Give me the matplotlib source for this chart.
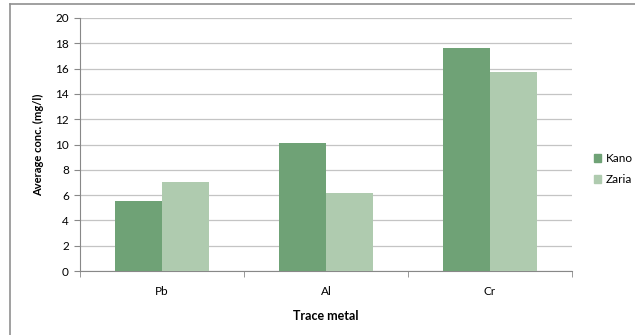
import matplotlib
matplotlib.use("Agg")
import matplotlib.pyplot as plt
from matplotlib.lines import Line2D
from matplotlib.patches import Patch
import numpy as np

metals = ["Pb", "Al", "Cr"]
kano = [5.5, 10.1, 17.6]
zaria = [7.05, 6.2, 15.7]

kano_color = "#6fa276"
zaria_color = "#afcbaf"
grid_color = "#c4c4c4"

plt.rcParams["font.family"] = ["Lato", "DejaVu Sans"]

fig = plt.figure(figsize=(6.35, 3.35), dpi=100)
ax = fig.add_axes([80 / 635, 1 - 271 / 335, 492 / 635, 253 / 335])

x = np.arange(len(metals))
w = 0.286
ax.bar(x - w / 2, kano, w, color=kano_color, label="Kano", zorder=3)
ax.bar(x + w / 2, zaria, w, color=zaria_color, label="Zaria", zorder=3)

ax.set_xlim(-0.5, len(metals) - 0.5)
ax.set_ylim(0, 20)
ax.set_yticks(range(0, 21, 2))
ax.yaxis.grid(True, color=grid_color, linewidth=0.9, zorder=0)

# category labels without ticks, ticks at category boundaries
ax.set_xticks(x)
ax.set_xticklabels(metals, fontsize=8.5)
ax.tick_params(axis="x", length=0, pad=11)
ax.set_xticks(np.arange(-0.5, len(metals)), minor=True)
ax.tick_params(axis="x", which="minor", length=4, color="#888888", direction="out")
ax.tick_params(axis="y", length=4, color="#888888", labelsize=8.5, pad=4)

for side in ["top", "right"]:
    ax.spines[side].set_visible(False)
ax.spines["left"].set_color("#888888")
ax.spines["bottom"].set_color("#888888")

ax.set_ylabel("Average conc. (mg/l)", fontsize=8, fontweight="bold", labelpad=8)
ax.set_xlabel("Trace metal", fontsize=9, fontweight="bold", labelpad=9)

handles = [Patch(color=kano_color), Patch(color=zaria_color)]
fig.legend(handles, ["Kano", "Zaria"], loc="center left",
           bbox_to_anchor=(589 / 635, 1 - 169 / 335), frameon=False,
           fontsize=8.5, handlelength=0.65, handleheight=0.65,
           handletextpad=0.4, labelspacing=0.8, borderaxespad=0)

# outer frame (left and top edges)
fig.add_artist(Line2D([10 / 635, 10 / 635], [0, 1 - 4 / 335],
                      transform=fig.transFigure, color="#909090", linewidth=1.2))
fig.add_artist(Line2D([10 / 635, 1], [1 - 4 / 335, 1 - 4 / 335],
                      transform=fig.transFigure, color="#909090", linewidth=1.2))

fig.savefig("out.png", dpi=100)
